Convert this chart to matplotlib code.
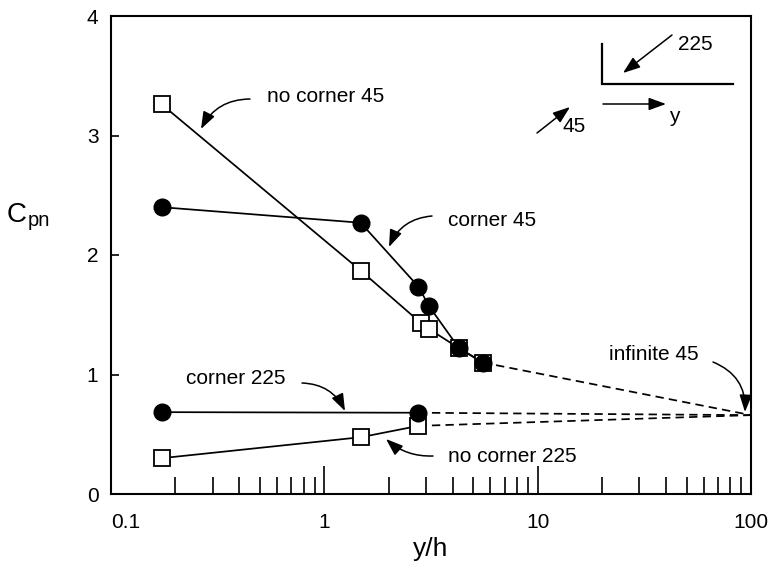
import matplotlib
matplotlib.use("Agg")
import matplotlib.pyplot as plt
from matplotlib.ticker import FixedLocator, FixedFormatter, NullFormatter

plt.rcParams['font.family'] = ['Liberation Sans', 'DejaVu Sans']

# Normal-force pressure coefficient against distance from the edge, y/h
yh_nocorner45 = [0.173, 1.48, 2.84, 3.10, 4.28, 5.53]
cpn_nocorner45 = [3.26, 1.87, 1.43, 1.38, 1.22, 1.10]

yh_corner45 = [0.173, 1.48, 2.76, 3.10, 4.28, 5.53]
cpn_corner45 = [2.40, 2.27, 1.735, 1.57, 1.22, 1.10]

yh_corner225 = [0.173, 2.76]
cpn_corner225 = [0.685, 0.68]

yh_nocorner225 = [0.173, 1.48, 2.76]
cpn_nocorner225 = [0.30, 0.475, 0.57]

# asymptotic value for an infinitely long wall
yh_infinite = 100
cpn_infinite45 = 0.66

x_major = [0.1, 1, 10, 100]
x_major_labels = ['0.1', '1', '10', '100']
y_major = [0, 1, 2, 3, 4]

W, H = 781, 566
fig = plt.figure(figsize=(W / 100, H / 100), dpi=100)
L, R, T, B = 111, 751, 16, 494
ax = fig.add_axes([L / W, (H - B) / H, (R - L) / W, (B - T) / H])


def fr(px, py):
    """pixel position -> axes fraction"""
    return ((px - L) / (R - L), (B - py) / (B - T))


lw = 1.25
dash = (4.8, 3.0)

# dashed extrapolation to the infinite-wall value
for xs, ys in [(yh_nocorner45, cpn_nocorner45), (yh_corner225, cpn_corner225),
               (yh_nocorner225, cpn_nocorner225)]:
    ax.plot([xs[-1], yh_infinite], [ys[-1], cpn_infinite45], color='k', lw=lw,
            dashes=dash, zorder=2)

for xs, ys in [(yh_nocorner45, cpn_nocorner45), (yh_corner45, cpn_corner45),
               (yh_corner225, cpn_corner225), (yh_nocorner225, cpn_nocorner225)]:
    ax.plot(xs, ys, color='k', lw=lw, zorder=2)

sq = dict(ls='none', marker='s', ms=11.5, mfc='white', mec='k', mew=1.3, zorder=3)
ci = dict(ls='none', marker='o', ms=12, mfc='k', mec='k', mew=1.0, zorder=4)
ax.plot(yh_nocorner45, cpn_nocorner45, **sq)
ax.plot(yh_nocorner225, cpn_nocorner225, **sq)
ax.plot(yh_corner45, cpn_corner45, **ci)
ax.plot(yh_corner225, cpn_corner225, **ci)

ax.set_xscale('log')
ax.set_xlim(0.1, 100)
ax.set_ylim(0, 4)

ax.xaxis.set_major_locator(FixedLocator(x_major))
ax.xaxis.set_major_formatter(FixedFormatter(x_major_labels))
ax.xaxis.set_minor_locator(FixedLocator([m * d for d in (0.1, 1, 10) for m in range(2, 10)]))
ax.xaxis.set_minor_formatter(NullFormatter())
ax.yaxis.set_major_locator(FixedLocator(y_major))
ax.yaxis.set_minor_locator(FixedLocator([]))

ax.tick_params(axis='x', which='major', direction='in', length=20, width=1.2,
               labelsize=15, pad=14)
ax.tick_params(axis='x', which='minor', direction='in', length=12, width=1.2)
ax.tick_params(axis='y', which='major', direction='in', length=6, width=1.2,
               labelsize=15, pad=9)
ax.get_xticklabels()[0].set_horizontalalignment('left')

for s in ax.spines.values():
    s.set_linewidth(1.5)

fig.text((L + R) / 2 / W, 1 - 549 / H, 'y/h', ha='center', va='center', fontsize=19)
fig.text(7 / W, 1 - 222 / H, 'C', ha='left', va='baseline', fontsize=20)
fig.text(28 / W, 1 - 226 / H, 'pn', ha='left', va='baseline', fontsize=14.5)

arrow = dict(arrowstyle='-|>,head_length=0.55,head_width=0.2', mutation_scale=19,
             color='k', lw=1.1, shrinkA=0, shrinkB=0)


def curved(tail, tip, rad):
    ax.annotate('', xy=fr(*tip), xytext=fr(*tail), xycoords='axes fraction',
                textcoords='axes fraction',
                arrowprops=dict(arrow, connectionstyle=f'arc3,rad={rad}'))


fs = 15
ax.text(*fr(326, 97), 'no corner 45', ha='center', va='center', fontsize=fs, transform=ax.transAxes)
curved((250, 99), (201, 129), 0.3)

ax.text(*fr(448, 220), 'corner 45', ha='left', va='center', fontsize=fs, transform=ax.transAxes)
curved((432, 216), (389, 247), 0.3)

ax.text(*fr(236, 378), 'corner 225', ha='center', va='center', fontsize=fs, transform=ax.transAxes)
curved((302, 383), (345, 411), -0.3)

ax.text(*fr(448, 456), 'no corner 225', ha='left', va='center', fontsize=fs, transform=ax.transAxes)
curved((433, 456), (386, 439), -0.2)

ax.text(*fr(654, 355), 'infinite 45', ha='center', va='center', fontsize=fs, transform=ax.transAxes)
curved((713, 362), (745, 412), -0.35)

# wind-direction sketch
ax.plot(*zip(fr(602, 44), fr(602, 84), fr(733, 84)), color='k', lw=1.6,
        transform=ax.transAxes, solid_joinstyle='miter')
straight = dict(arrow, connectionstyle='arc3,rad=0')
ax.annotate('', xy=fr(623, 73), xytext=fr(672, 35), xycoords='axes fraction',
            textcoords='axes fraction', arrowprops=straight)
ax.text(*fr(695, 45), '225', ha='center', va='center', fontsize=fs, transform=ax.transAxes)
ax.annotate('', xy=fr(666, 104), xytext=fr(603, 104), xycoords='axes fraction',
            textcoords='axes fraction', arrowprops=straight)
ax.text(*fr(674, 117), 'y', ha='center', va='center', fontsize=fs, transform=ax.transAxes)
ax.annotate('', xy=fr(570, 107), xytext=fr(537, 133), xycoords='axes fraction',
            textcoords='axes fraction', arrowprops=straight)
ax.text(*fr(574, 126), '45', ha='center', va='center', fontsize=fs, transform=ax.transAxes)

fig.savefig('out.png', dpi=100)
